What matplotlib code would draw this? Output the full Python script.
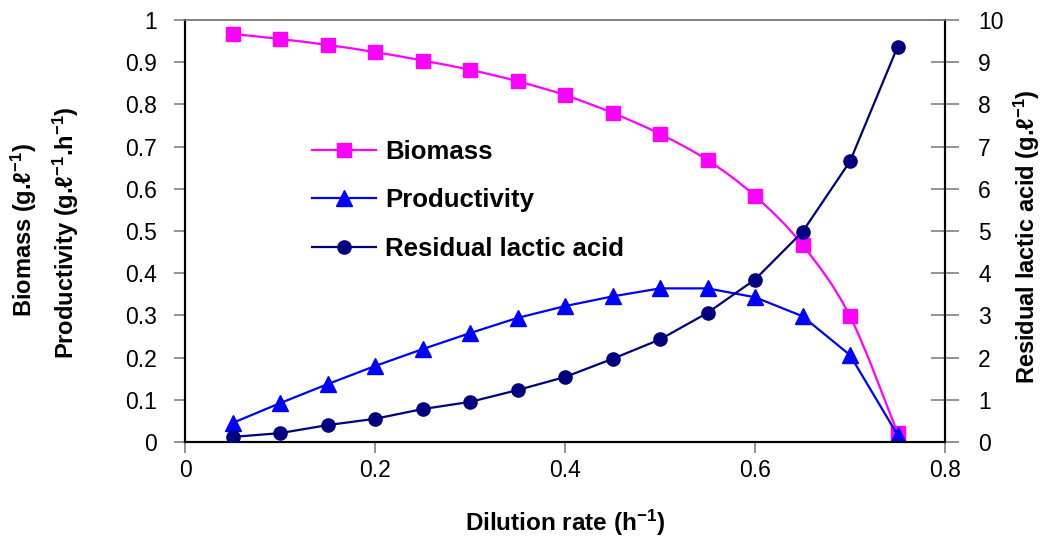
import matplotlib
matplotlib.use("Agg")
import matplotlib.pyplot as plt
import numpy as np
from matplotlib.path import Path
from matplotlib.patches import PathPatch
from matplotlib.ticker import FormatStrFormatter

plt.rcParams['font.family'] = ['Liberation Sans', 'DejaVu Sans']
plt.rcParams['mathtext.fontset'] = 'custom'
plt.rcParams['mathtext.rm'] = 'Liberation Sans'
plt.rcParams['mathtext.bf'] = 'Liberation Sans:bold'
plt.rcParams['mathtext.it'] = 'Liberation Sans:italic'

# ---- data ----
dilution = [0.05, 0.10, 0.15, 0.20, 0.25, 0.30, 0.35, 0.40, 0.45, 0.50, 0.55, 0.60, 0.65, 0.70, 0.75]
biomass = [0.967, 0.955, 0.941, 0.924, 0.904, 0.882, 0.855, 0.822, 0.780, 0.730, 0.668, 0.583, 0.467, 0.298, 0.022]
productivity = [0.045, 0.092, 0.137, 0.180, 0.220, 0.258, 0.294, 0.322, 0.345, 0.364, 0.364, 0.343, 0.298, 0.206, 0.017]
residual = [0.12, 0.21, 0.40, 0.55, 0.78, 0.95, 1.23, 1.54, 1.97, 2.43, 3.06, 3.85, 4.98, 6.65, 9.36]

series_names = ["Biomass", "Productivity", "Residual lactic acid"]
x_ticks = [0, 0.2, 0.4, 0.6, 0.8]
left_ticks = [0, 0.1, 0.2, 0.3, 0.4, 0.5, 0.6, 0.7, 0.8, 0.9, 1.0]
right_ticks = [0, 1, 2, 3, 4, 5, 6, 7, 8, 9, 10]

c_bio = "#FF00FF"
c_prod = "#0000FF"
c_res = "#000080"
grey = "#808080"
LW = 1.6

fig = plt.figure(figsize=(10.42, 5.37), dpi=100)
ax = fig.add_axes([185/1042, 1-442/537, (945-185)/1042, (442-20)/537])
ax2 = ax.twinx()

# smoothed biomass line (Excel-like Bezier smoothing)
xb = np.array(dilution); yb = np.array(biomass)
verts = [(xb[0], yb[0])]
codes = [Path.MOVETO]
n = len(xb)
for i in range(n - 1):
    p0 = np.array([xb[max(i-1, 0)], yb[max(i-1, 0)]])
    p1 = np.array([xb[i], yb[i]])
    p2 = np.array([xb[i+1], yb[i+1]])
    p3 = np.array([xb[min(i+2, n-1)], yb[min(i+2, n-1)]])
    c1 = p1 + (p2 - p0) / 6.0
    c2 = p2 - (p3 - p1) / 6.0
    verts += [tuple(c1), tuple(c2), tuple(p2)]
    codes += [Path.CURVE4] * 3
ax.add_patch(PathPatch(Path(verts, codes), facecolor='none', edgecolor=c_bio, lw=LW, zorder=2))
ax.plot(dilution, biomass, color=c_bio, marker='s', markersize=9.5,
        linestyle='none', zorder=3)
h1, = ax.plot([], [], color=c_bio, lw=LW, marker='s', markersize=9.5)
h2, = ax.plot(dilution, productivity, color=c_prod, lw=LW, marker='^', markersize=11,
              zorder=3)
h3, = ax2.plot(dilution, residual, color=c_res, lw=LW, marker='o', markersize=9.5,
               zorder=3)

ax.set_xlim(0, 0.8)
ax.set_ylim(0, 1)
ax2.set_ylim(0, 10)
ax.set_xticks(x_ticks)
ax.set_yticks(left_ticks)
ax2.set_yticks(right_ticks)
ax.xaxis.set_major_formatter(FormatStrFormatter('%g'))
ax.yaxis.set_major_formatter(FormatStrFormatter('%g'))
ax2.yaxis.set_major_formatter(FormatStrFormatter('%g'))

for a in (ax, ax2):
    for s in a.spines.values():
        s.set_linewidth(1.5)
        s.set_color('black')
    a.spines['top'].set_color(grey)
    a.spines['top'].set_linewidth(1.2)

ax.tick_params(axis='both', which='major', labelsize=16.5, color=grey, width=1.2,
               length=8, direction='out')
ax.tick_params(axis='y', pad=12)
ax.tick_params(axis='x', pad=4)
ax2.tick_params(axis='y', labelsize=16.5, color=grey, width=1.2, length=20,
                direction='inout', pad=14)

ax.set_xlabel("Dilution rate (h$^{\\mathbf{-1}}$)", fontsize=17.5, fontweight='bold', labelpad=19)
fig.text(24/1042, 1-230/537, "Biomass (g.ℓ$^{\\mathbf{-1}}$)", rotation=90, fontsize=17,
         fontweight='bold', ha='center', va='center')
fig.text(66/1042, 1-233/537, "Productivity (g.ℓ$^{\\mathbf{-1}}$.h$^{\\mathbf{-1}}$)", rotation=90,
         fontsize=17, fontweight='bold', ha='center', va='center')
fig.text(1027/1042, 1-237/537, "Residual lactic acid (g.ℓ$^{\\mathbf{-1}}$)", rotation=90,
         fontsize=17, fontweight='bold', ha='center', va='center')

leg = ax2.legend([h1, h2, h3], series_names, loc='upper left',
                 bbox_to_anchor=(312/1042, 1-140/537), bbox_transform=fig.transFigure,
                 frameon=False, prop={'weight': 'bold', 'size': 18.5},
                 handlelength=2.5, handletextpad=0.35, labelspacing=0.95,
                 borderpad=0, borderaxespad=0)

fig.savefig("out.png", dpi=100)
